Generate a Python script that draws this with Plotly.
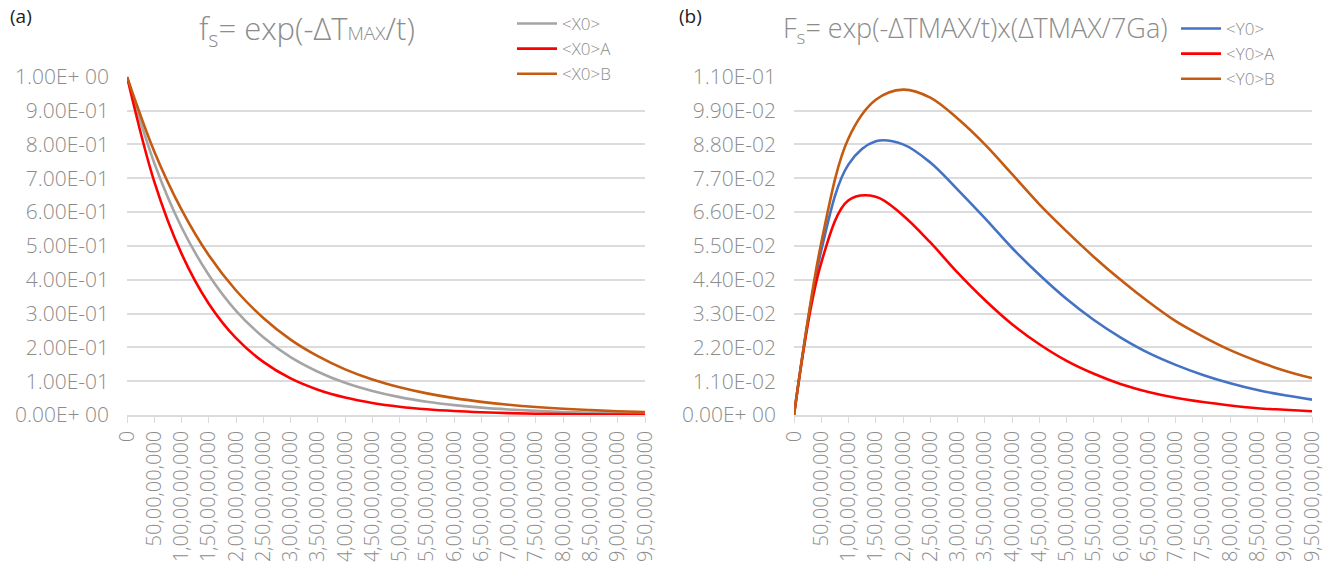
import plotly.graph_objects as go

categories = ["0", "50,00,00,000", "1,00,00,00,000", "1,50,00,00,000", "2,00,00,00,000",
              "2,50,00,00,000", "3,00,00,00,000", "3,50,00,00,000", "4,00,00,00,000",
              "4,50,00,00,000", "5,00,00,00,000", "5,50,00,00,000", "6,00,00,00,000",
              "6,50,00,00,000", "7,00,00,00,000", "7,50,00,00,000", "8,00,00,00,000",
              "8,50,00,00,000", "9,00,00,00,000", "9,50,00,00,000"]

# Panel (a)
x0 = [1.0, 0.745, 0.555, 0.414, 0.308, 0.230, 0.171, 0.128, 0.0951, 0.0709, 0.0528,
      0.0393, 0.0293, 0.0218, 0.0163, 0.0121, 0.0090, 0.0067, 0.0050, 0.0037]
x0a = [1.0, 0.690, 0.477, 0.329, 0.227, 0.157, 0.108, 0.0748, 0.0517, 0.0357, 0.0246,
       0.0170, 0.0117, 0.0081, 0.0056, 0.0039, 0.0027, 0.0018, 0.0013, 0.0009]
x0b = [1.0, 0.779, 0.607, 0.472, 0.368, 0.287, 0.223, 0.174, 0.135, 0.105, 0.0821,
       0.0639, 0.0498, 0.0388, 0.0302, 0.0235, 0.0183, 0.0143, 0.0111, 0.0087]

# Panel (b)
y0 = [0.0, 0.0535, 0.0815, 0.0890, 0.0880, 0.0821, 0.0733, 0.0640, 0.0543, 0.0456, 0.0377,
      0.0309, 0.0251, 0.0202, 0.0163, 0.0130, 0.0103, 0.0081, 0.0064, 0.0050]
y0a = [0.0, 0.0495, 0.0698, 0.0710, 0.0649, 0.0561, 0.0463, 0.0374, 0.0295, 0.0230, 0.0176,
       0.0134, 0.0100, 0.0075, 0.0056, 0.0042, 0.0031, 0.0022, 0.0017, 0.0012]
y0b = [0.0, 0.0560, 0.0900, 0.1025, 0.1058, 0.1032, 0.0964, 0.0880, 0.0783, 0.0685, 0.0597,
       0.0514, 0.0438, 0.0368, 0.0305, 0.0255, 0.0211, 0.0175, 0.0144, 0.0120]

yticks_a = [0.0, 0.1, 0.2, 0.3, 0.4, 0.5, 0.6, 0.7, 0.8, 0.9, 1.0]
yticklabels_a = ["0.00E+ 00", "1.00E-01", "2.00E-01", "3.00E-01", "4.00E-01", "5.00E-01",
                 "6.00E-01", "7.00E-01", "8.00E-01", "9.00E-01", "1.00E+ 00"]
yticks_b = [0.0, 0.011, 0.022, 0.033, 0.044, 0.055, 0.066, 0.077, 0.088, 0.099, 0.11]
yticklabels_b = ["0.00E+ 00", "1.10E-02", "2.20E-02", "3.30E-02", "4.40E-02", "5.50E-02",
                 "6.60E-02", "7.70E-02", "8.80E-02", "9.90E-02", "1.10E-01"]

GRAY = "#a5a5a5"
RED = "#ff0000"
ORANGE = "#c55a11"
BLUE = "#4472c4"
TXT = "#8c8c8c"
GRID = "#dcdcdc"
FONT = "Open Sans"

xi = list(range(len(categories)))

fig = go.Figure()

def add(y, name, color, xa, ya, legend):
    fig.add_trace(go.Scatter(x=xi, y=y, name=name, mode="lines",
                             line=dict(color=color, width=2.6, shape="spline", smoothing=1.0),
                             xaxis=xa, yaxis=ya, legend=legend))

add(x0, "&lt;X0&gt;", GRAY, "x", "y", "legend")
add(x0a, "&lt;X0&gt;A", RED, "x", "y", "legend")
add(x0b, "&lt;X0&gt;B", ORANGE, "x", "y", "legend")
add(y0, "&lt;Y0&gt;", BLUE, "x2", "y2", "legend2")
add(y0a, "&lt;Y0&gt;A", RED, "x2", "y2", "legend2")
add(y0b, "&lt;Y0&gt;B", ORANGE, "x2", "y2", "legend2")

W, H = 1327, 579
ybot, ytop = 1 - 415 / H, 1 - 76.7 / H

xcommon = dict(tickmode="array", tickvals=xi, ticktext=categories, tickangle=-90,
               showgrid=False, zeroline=False, showline=True, linecolor=GRID, linewidth=1.5,
               ticks="outside", ticklen=6, tickcolor=GRID, tickwidth=1.2,
               tickfont=dict(family=FONT, size=20, color=TXT, weight=300),
               range=[0, 19], fixedrange=True, automargin=False)
ycommon = dict(tickmode="array", showgrid=True, gridcolor=GRID, gridwidth=1.5,
               zeroline=False, showline=False, ticks="", ticklabelstandoff=17,
               tickfont=dict(family=FONT, size=21, color=TXT, weight=300), fixedrange=True,
               automargin=False)

legfont = dict(family=FONT, size=17, color=TXT, weight=300)

fig.update_layout(
    width=W, height=H,
    margin=dict(l=0, r=0, t=0, b=0, autoexpand=False),
    paper_bgcolor="white", plot_bgcolor="white",
    xaxis=dict(domain=[127 / W, 645 / W], anchor="y", **xcommon),
    yaxis=dict(domain=[ybot, ytop], anchor="x", range=[0, 1.0],
               tickvals=yticks_a, ticktext=yticklabels_a, **ycommon),
    xaxis2=dict(domain=[794 / W, 1312 / W], anchor="y2", **xcommon),
    yaxis2=dict(domain=[ybot, ytop], anchor="x2", range=[0, 0.11],
                tickvals=yticks_b, ticktext=yticklabels_b, **ycommon),
    legend=dict(x=512 / W, y=1 - 6 / H, xanchor="left", yanchor="top",
                bgcolor="rgba(0,0,0,0)", font=legfont, tracegroupgap=0, itemwidth=40),
    legend2=dict(x=1176 / W, y=1 - 11 / H, xanchor="left", yanchor="top",
                 bgcolor="rgba(0,0,0,0)", font=legfont, tracegroupgap=0, itemwidth=40),
    showlegend=True,
)

fig.add_annotation(text="(a)", x=8 / W, y=1 - 16 / H, xref="paper", yref="paper",
                   xanchor="left", yanchor="middle", showarrow=False,
                   font=dict(family=FONT, size=19, color="#222222"))
fig.add_annotation(text="(b)", x=677 / W, y=1 - 16 / H, xref="paper", yref="paper",
                   xanchor="left", yanchor="middle", showarrow=False,
                   font=dict(family=FONT, size=19, color="#222222"))
fig.add_annotation(text="f<sub>s</sub>= exp(-ΔT<span style='font-size:19px'>MAX</span>/t)",
                   x=307 / W, y=1 - 30 / H, xref="paper", yref="paper",
                   xanchor="center", yanchor="middle", showarrow=False,
                   font=dict(family=FONT, size=31, color=TXT, weight=300))
fig.add_annotation(text="F<sub>s</sub>= exp(-ΔTMAX/t)x(ΔTMAX/7Ga)",
                   x=975 / W, y=1 - 30 / H, xref="paper", yref="paper",
                   xanchor="center", yanchor="middle", showarrow=False,
                   font=dict(family=FONT, size=27, color=TXT, weight=300))

fig.write_html("out.html")
